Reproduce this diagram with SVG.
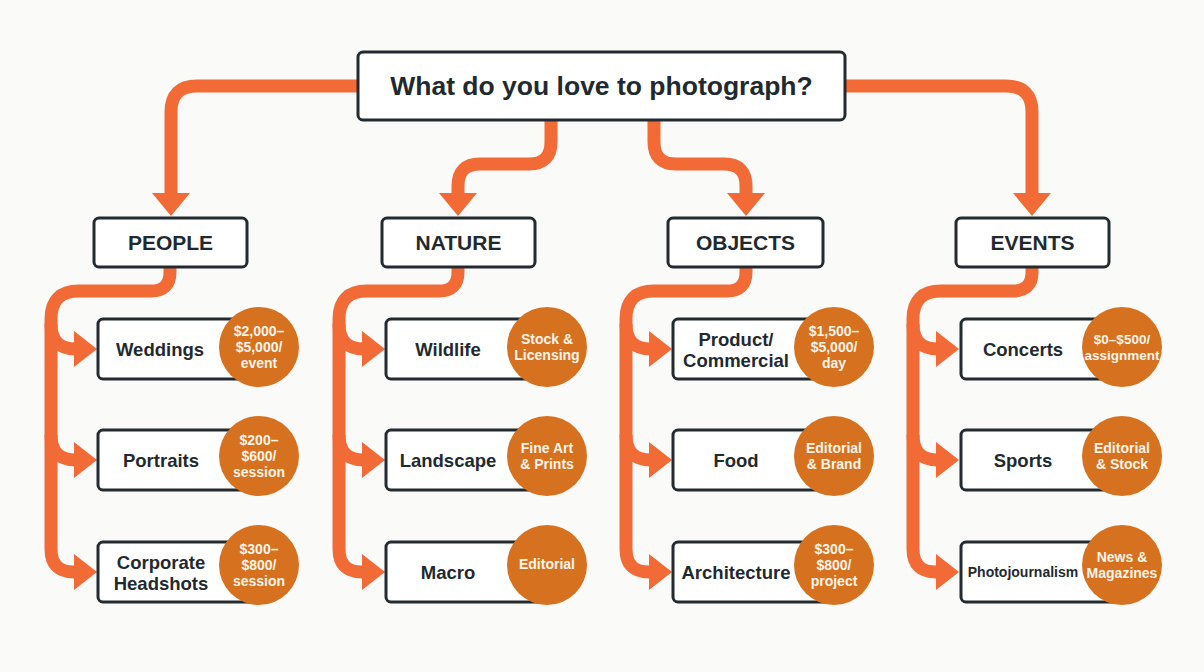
<svg xmlns="http://www.w3.org/2000/svg" width="1204" height="672" viewBox="0 0 1204 672">
<defs>
<style>
.bg{fill:#FAFAF9}
.box{fill:#FFFFFF;stroke:#232B30;stroke-width:3}
.con{fill:none;stroke:#F26A36;stroke-width:13;stroke-linecap:butt;stroke-linejoin:round}
.head{fill:#F26A36}
.badge{fill:#D6711F}
.t{font-family:"Liberation Sans",Arial,sans-serif;font-weight:700;fill:#1F2A30;text-anchor:middle}
.title{font-size:26.5px}
.cat{font-size:21px}
.item{font-size:18.5px}
.small{font-size:14px}
.bt{font-family:"Liberation Sans",Arial,sans-serif;font-weight:700;fill:#FFF4E8;text-anchor:middle;font-size:14px}
.bts{font-size:13.5px}
</style>
</defs>
<rect class="bg" x="0" y="0" width="1204" height="672"/>

<g id="connectors">
  <path class="con" d="M358 86 H197 Q171 86 171 112 V196"/>
  <polygon class="head" points="152,193 190,193 171,216"/>
  <path class="con" d="M551 120 V142 Q551 164 529 164 H480 Q458 164 458 186 V196"/>
  <polygon class="head" points="439,193 477,193 458,216"/>
  <path class="con" d="M654 120 V142 Q654 164 676 164 H724 Q746 164 746 186 V196"/>
  <polygon class="head" points="727,193 765,193 746,216"/>
  <path class="con" d="M845 86 H1006 Q1032 86 1032 112 V196"/>
  <polygon class="head" points="1013,193 1051,193 1032,216"/>

  <path class="con" d="M170 266 V272 Q170 291 151 291 H79 Q51 291 51 319 V549 Q51 572 74 572 H78"/>
  <path class="con" d="M51 324 Q51 349 76 349 H78"/>
  <path class="con" d="M51 435 Q51 460 76 460 H78"/>
  <polygon class="head" points="74,331 97,349 74,367"/>
  <polygon class="head" points="74,442 97,460 74,478"/>
  <polygon class="head" points="74,554 97,572 74,590"/>

  <path class="con" d="M458 266 V272 Q458 291 439 291 H367 Q339 291 339 319 V549 Q339 572 362 572 H366"/>
  <path class="con" d="M339 324 Q339 349 364 349 H366"/>
  <path class="con" d="M339 435 Q339 460 364 460 H366"/>
  <polygon class="head" points="362,331 385,349 362,367"/>
  <polygon class="head" points="362,442 385,460 362,478"/>
  <polygon class="head" points="362,554 385,572 362,590"/>

  <path class="con" d="M746 266 V272 Q746 291 727 291 H654 Q626 291 626 319 V549 Q626 572 649 572 H653"/>
  <path class="con" d="M626 324 Q626 349 651 349 H653"/>
  <path class="con" d="M626 435 Q626 460 651 460 H653"/>
  <polygon class="head" points="649,331 672,349 649,367"/>
  <polygon class="head" points="649,442 672,460 649,478"/>
  <polygon class="head" points="649,554 672,572 649,590"/>

  <path class="con" d="M1032 266 V272 Q1032 291 1013 291 H941 Q913 291 913 319 V549 Q913 572 936 572 H940"/>
  <path class="con" d="M913 324 Q913 349 938 349 H940"/>
  <path class="con" d="M913 435 Q913 460 938 460 H940"/>
  <polygon class="head" points="936,331 959,349 936,367"/>
  <polygon class="head" points="936,442 959,460 936,478"/>
  <polygon class="head" points="936,554 959,572 936,590"/>
</g>

<g id="root">
  <rect class="box" x="358" y="52" width="487" height="68" rx="5"/>
  <text class="t title" x="601.5" y="95">What do you love to photograph?</text>
</g>

<g id="people">
  <rect class="box" x="94" y="218" width="153" height="49" rx="5"/>
  <text class="t cat" x="170.5" y="250">PEOPLE</text>
</g>
<g id="nature">
  <rect class="box" x="382" y="218" width="153" height="49" rx="5"/>
  <text class="t cat" x="458.5" y="250">NATURE</text>
</g>
<g id="objects">
  <rect class="box" x="668" y="218" width="155" height="49" rx="5"/>
  <text class="t cat" x="745.5" y="250">OBJECTS</text>
</g>
<g id="events">
  <rect class="box" x="956" y="218" width="153" height="49" rx="5"/>
  <text class="t cat" x="1032.5" y="250">EVENTS</text>
</g>

<g id="weddings">
  <rect class="box" x="98" y="319" width="162" height="60" rx="5"/>
  <text class="t item" x="160" y="356">Weddings</text>
  <circle class="badge" cx="259" cy="347" r="40"/>
  <text class="bt" x="259" y="336">$2,000–</text>
  <text class="bt" x="259" y="352">$5,000/</text>
  <text class="bt" x="259" y="368">event</text>
</g>
<g id="portraits">
  <rect class="box" x="98" y="430" width="162" height="60" rx="5"/>
  <text class="t item" x="161" y="467">Portraits</text>
  <circle class="badge" cx="259" cy="456" r="40"/>
  <text class="bt" x="259" y="445">$200–</text>
  <text class="bt" x="259" y="461">$600/</text>
  <text class="bt" x="259" y="477">session</text>
</g>
<g id="corporate">
  <rect class="box" x="98" y="542" width="162" height="60" rx="5"/>
  <text class="t item" x="161" y="569">Corporate</text>
  <text class="t item" x="161" y="590">Headshots</text>
  <circle class="badge" cx="259" cy="565" r="40"/>
  <text class="bt" x="259" y="554">$300–</text>
  <text class="bt" x="259" y="570">$800/</text>
  <text class="bt" x="259" y="586">session</text>
</g>

<g id="wildlife">
  <rect class="box" x="386" y="319" width="162" height="60" rx="5"/>
  <text class="t item" x="448" y="356">Wildlife</text>
  <circle class="badge" cx="547" cy="347" r="40"/>
  <text class="bt" x="547" y="344">Stock &amp;</text>
  <text class="bt" x="547" y="360">Licensing</text>
</g>
<g id="landscape">
  <rect class="box" x="386" y="430" width="162" height="60" rx="5"/>
  <text class="t item" x="448" y="467">Landscape</text>
  <circle class="badge" cx="547" cy="456" r="40"/>
  <text class="bt" x="547" y="453">Fine Art</text>
  <text class="bt" x="547" y="469">&amp; Prints</text>
</g>
<g id="macro">
  <rect class="box" x="386" y="542" width="162" height="60" rx="5"/>
  <text class="t item" x="448" y="579">Macro</text>
  <circle class="badge" cx="547" cy="565" r="40"/>
  <text class="bt" x="547" y="569">Editorial</text>
</g>

<g id="product">
  <rect class="box" x="673" y="319" width="162" height="60" rx="5"/>
  <text class="t item" x="736" y="346">Product/</text>
  <text class="t item" x="736" y="367">Commercial</text>
  <circle class="badge" cx="834" cy="347" r="40"/>
  <text class="bt" x="834" y="336">$1,500–</text>
  <text class="bt" x="834" y="352">$5,000/</text>
  <text class="bt" x="834" y="368">day</text>
</g>
<g id="food">
  <rect class="box" x="673" y="430" width="162" height="60" rx="5"/>
  <text class="t item" x="736" y="467">Food</text>
  <circle class="badge" cx="834" cy="456" r="40"/>
  <text class="bt" x="834" y="453">Editorial</text>
  <text class="bt" x="834" y="469">&amp; Brand</text>
</g>
<g id="architecture">
  <rect class="box" x="673" y="542" width="162" height="60" rx="5"/>
  <text class="t item" x="736" y="579">Architecture</text>
  <circle class="badge" cx="834" cy="565" r="40"/>
  <text class="bt" x="834" y="554">$300–</text>
  <text class="bt" x="834" y="570">$800/</text>
  <text class="bt" x="834" y="586">project</text>
</g>

<g id="concerts">
  <rect class="box" x="961" y="319" width="162" height="60" rx="5"/>
  <text class="t item" x="1023" y="356">Concerts</text>
  <circle class="badge" cx="1122" cy="347" r="40"/>
  <text class="bt bts" x="1122" y="344">$0–$500/</text>
  <text class="bt bts" x="1122" y="360">assignment</text>
</g>
<g id="sports">
  <rect class="box" x="961" y="430" width="162" height="60" rx="5"/>
  <text class="t item" x="1023" y="467">Sports</text>
  <circle class="badge" cx="1122" cy="456" r="40"/>
  <text class="bt" x="1122" y="453">Editorial</text>
  <text class="bt" x="1122" y="469">&amp; Stock</text>
</g>
<g id="photojournalism">
  <rect class="box" x="961" y="542" width="162" height="60" rx="5"/>
  <text class="t small" x="1023" y="577">Photojournalism</text>
  <circle class="badge" cx="1122" cy="565" r="40"/>
  <text class="bt" x="1122" y="562">News &amp;</text>
  <text class="bt" x="1122" y="578">Magazines</text>
</g>
</svg>
